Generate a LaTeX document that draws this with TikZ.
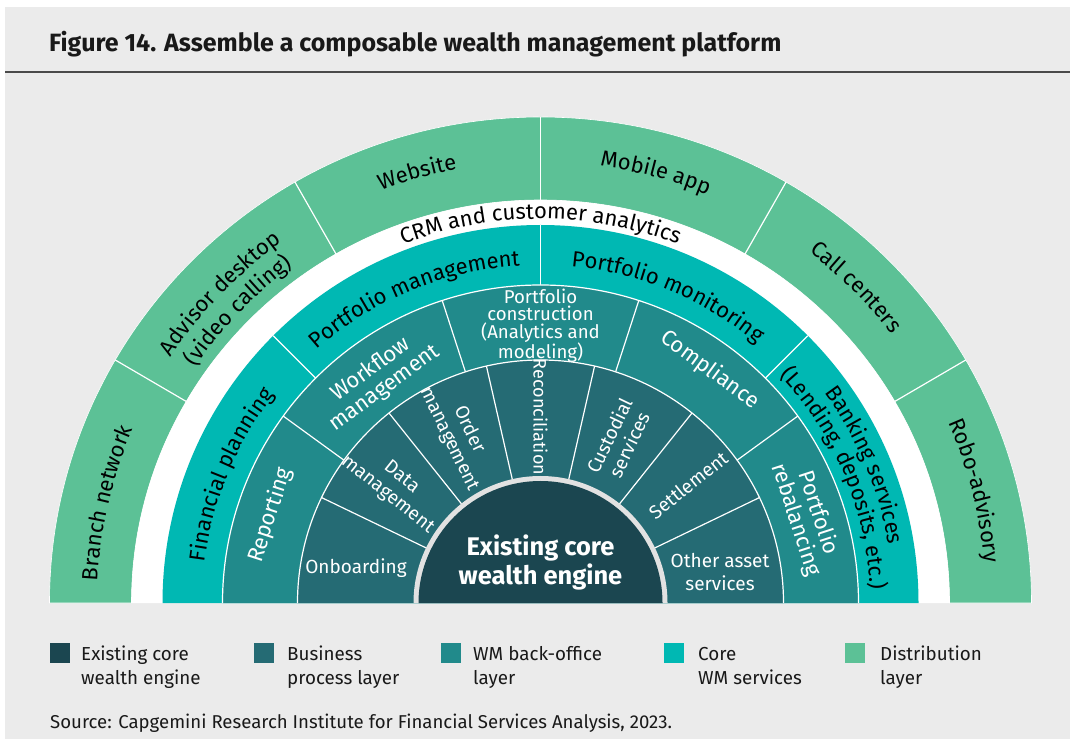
\documentclass[tikz,border=0pt]{standalone}
\usepackage{fontspec}
\setmainfont{Fira Sans}
\usetikzlibrary{decorations.text}
\definecolor{bg}{HTML}{EBEBEB}
\definecolor{cengine}{HTML}{1B4650}
\definecolor{cbiz}{HTML}{256B74}
\definecolor{cback}{HTML}{218A8B}
\definecolor{ccore}{HTML}{00B8B3}
\definecolor{cdist}{HTML}{5CC196}
\definecolor{cborder}{HTML}{E2E2E2}
\definecolor{cline}{HTML}{4A4A4A}
\newcommand\blk{\fontsize{22}{26}\selectfont\color{black}}
\newcommand\curvelabel[4]{%
  \path[decorate,decoration={text along path,text align=center,text={|\blk|#4}}]
    ({#2+#3}:#1pt) arc[start angle={#2+#3}, end angle={#2-#3}, radius=#1pt];}
\tikzset{
  wlabel/.style={white, font=\fontsize{19}{22}\selectfont, align=center, inner sep=0pt},
  wbig/.style={white, font=\fontsize{22}{23}\selectfont, align=center, inner sep=0pt},
  divider/.style={white, line width=1.2pt},
  legbox/.style={minimum width=20pt, minimum height=20pt, inner sep=0pt, anchor=south west},
  legtext/.style={anchor=base west, inner sep=0pt, font=\fontsize{18.8}{22}\selectfont, text=black!90}
}
\begin{document}
\begin{tikzpicture}[x=1pt,y=1pt]
\useasboundingbox (0,0) rectangle (1070,742);
\fill[white] (0,0) rectangle (1070,742);
\fill[bg] (5,3) rectangle (1070,735);
\node[anchor=base west, inner sep=0pt, font=\bfseries\fontsize{25}{29}\selectfont, text=black!90] (title) at (49,690) {Figure 14. Assemble a composable wealth management platform};
\coordinate (hl) at (5,670); \coordinate (hr) at (1070,670);
\draw[cline, line width=1.6pt] (hl) -- (hr);

\begin{scope}[shift={(540.5,139)}]
% distribution layer (slightly elliptical)
\filldraw[fill=cdist, draw=white, line width=0.6pt] (491pt,0) arc[start angle=0,end angle=180,x radius=491pt,y radius=486pt] -- (-409pt,0) arc[start angle=180,end angle=0,x radius=409pt,y radius=403pt] -- cycle;
\fill[white] (409pt,0) arc[start angle=0,end angle=180,x radius=409pt,y radius=403pt] -- cycle;
\foreach \a in {30,60,90,120,150}
  \draw[divider] (\a:409pt and 403pt) -- (\a:491pt and 486pt);
% core WM services
\fill[ccore] (378pt,0) arc[start angle=0,end angle=180,radius=378pt] -- cycle;
\foreach \a in {45,90,135}
  \draw[divider] (\a:318pt) -- (\a:378pt);
% WM back-office layer
\fill[cback] (318pt,0) arc[start angle=0,end angle=180,radius=318pt] -- cycle;
\draw[divider] (318pt,0) arc[start angle=0,end angle=180,radius=318pt];
\foreach \a in {36,72,108,144}
  \draw[divider] (\a:243pt) -- (\a:318pt);
% business process layer
\fill[cbiz] (243pt,0) arc[start angle=0,end angle=180,radius=243pt] -- cycle;
\draw[divider] (243pt,0) arc[start angle=0,end angle=180,radius=243pt];
\foreach \i in {1,...,6}
  \draw[divider] ({\i*180/7}:125pt) -- ({\i*180/7}:243pt);
% core engine
\fill[cborder] (127pt,0) arc[start angle=0,end angle=180,radius=127pt] -- cycle;
\fill[cengine] (122pt,0) arc[start angle=0,end angle=180,radius=122pt] -- cycle;
\node[white, align=center, inner sep=0pt, font=\bfseries\fontsize{25.5}{29}\selectfont] (engine) at (0,41) {Existing core\\wealth engine};

% business process labels
\node[wlabel] (onb) at (-184.5,35) {Onboarding};
\node[wlabel, rotate=-38.6] (data) at (141.4:187pt) {Data\\management};
\node[wlabel, rotate=-64.3] (order) at (115.7:187pt) {Order\\management};
\node[wlabel, rotate=-90, font=\fontsize{18}{20}\selectfont] (recon) at (90:186pt) {Reconciliation};
\node[wlabel, rotate=64.3] (cust) at (64.3:181pt) {Custodial\\services};
\node[wlabel, rotate=38.6] (settle) at (38.6:189pt) {Settlement};
\node[wlabel, font=\fontsize{19}{23}\selectfont] (other) at (179.5,31) {Other asset\\services};

% WM back-office labels
\node[wbig, rotate=72] (report) at (162:284pt) {Reporting};
\node[wbig, rotate=36] (workflow) at (126:277pt) {Workflow\\management};
\node[wlabel, font=\fontsize{18.6}{17.3}\selectfont] (pcons) at (0,277) {Portfolio\\construction\\(Analytics and\\modeling)};
\node[wbig, rotate=-36] (compl) at (54:288pt) {Compliance};
\node[wbig, rotate=-72] (rebal) at (18:280pt) {Portfolio\\rebalancing};

% core WM services labels
\curvelabel{338}{157.5}{40}{Financial planning}
\curvelabel{338}{112.5}{40}{Portfolio management}
\curvelabel{338}{67.5}{40}{Portfolio monitoring}
\curvelabel{353}{23}{40}{Banking services}
\curvelabel{330}{23}{40}{(Lending, deposits, etc.)}
% CRM
\curvelabel{384}{90}{50}{CRM and customer analytics}
% distribution labels
\curvelabel{443}{167}{30}{Branch network}
\curvelabel{444}{136}{30}{Advisor desktop}
\curvelabel{418}{136}{30}{(video calling)}
\curvelabel{442}{106}{30}{Website}
\curvelabel{441}{75}{30}{Mobile app}
\curvelabel{442}{45}{30}{Call centers}
\curvelabel{446}{14.5}{30}{Robo-advisory}
\end{scope}

% legend
\node[legbox, fill=cengine] (l1) at (50,79) {};
\node[legbox, fill=cbiz] (l2) at (254,79) {};
\node[legbox, fill=cback] (l3) at (441,79) {};
\node[legbox, fill=ccore] (l4) at (664,79) {};
\node[legbox, fill=cdist] (l5) at (845,79) {};
\node[legtext] (t1a) at (81,82) {Existing core};
\node[legtext] (t1b) at (81,58) {wealth engine};
\node[legtext] (t2a) at (287,82) {Business};
\node[legtext] (t2b) at (287,58) {process layer};
\node[legtext] (t3a) at (473,82) {WM back-office};
\node[legtext] (t3b) at (473,58) {layer};
\node[legtext] (t4a) at (698,82) {Core};
\node[legtext] (t4b) at (698,58) {WM services};
\node[legtext] (t5a) at (880,82) {Distribution};
\node[legtext] (t5b) at (880,58) {layer};
\node[legtext, font=\fontsize{18.6}{20}\selectfont] (src) at (50,14) {Source: Capgemini Research Institute for Financial Services Analysis, 2023.};
\end{tikzpicture}
\end{document}
